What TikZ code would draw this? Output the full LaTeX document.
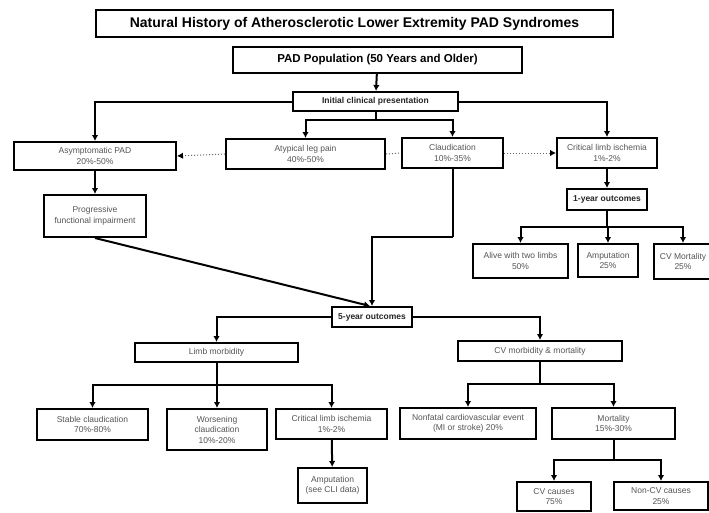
\documentclass[tikz,border=0pt]{standalone}
\usepackage{fontspec}
\setmainfont{Liberation Sans}
\usetikzlibrary{arrows.meta}
\definecolor{txtgray}{HTML}{555555}
\begin{document}
\begin{tikzpicture}[x=1pt,y=-1pt,
  box/.style={draw=black,line width=2pt,align=center,inner sep=1pt,text=txtgray,font=\fontsize{8.5}{10.5}\selectfont},
  bigbox/.style={box,text=black,font=\fontsize{14}{16}\selectfont\bfseries},
  midbox/.style={box,text=black!85,font=\fontsize{8.5}{10.5}\selectfont\bfseries},
  conn/.style={line width=2pt,draw=black},
  arr/.style={conn,-{Latex[length=6pt,width=6.5pt]}},
  dot/.style={line width=1pt,draw=black!60,dotted},
  dotarr/.style={dot,-{Latex[length=6pt,width=6.5pt,black]}}]
\useasboundingbox (0,0) rectangle (709,512);
\fill[white] (0,0) rectangle (709,512);
% nodes
\node[bigbox,minimum width=517pt,minimum height=27pt] (title) at (354.5,23.5) {Natural History of Atherosclerotic Lower Extremity PAD Syndromes};
\node[bigbox,font=\fontsize{11.5}{13}\selectfont\bfseries,minimum width=289pt,minimum height=26pt] (pad) at (377.5,60) {PAD Population (50 Years and Older)};
\node[midbox,minimum width=165pt,minimum height=19pt] (init) at (375.5,101.5) {Initial clinical presentation};
\node[box,minimum width=162pt,minimum height=28pt] (asym) at (95,156) {Asymptomatic PAD\\20\%-50\%};
\node[box,minimum width=159pt,minimum height=30pt] (atyp) at (305.5,154) {Atypical leg pain\\40\%-50\%};
\node[box,minimum width=101pt,minimum height=30pt] (claud) at (452.5,153) {Claudication\\10\%-35\%};
\node[box,minimum width=100pt,minimum height=30pt] (cli1) at (607,153) {Critical limb ischemia\\1\%-2\%};
\node[box,minimum width=102pt,minimum height=42pt] (prog) at (95,216) {Progressive\\functional impairment};
\node[midbox,minimum width=80pt,minimum height=21pt] (oneyr) at (607,199.5) {1-year outcomes};
\node[box,minimum width=95pt,minimum height=34pt] (alive) at (520.5,261) {Alive with two limbs\\50\%};
\node[box,minimum width=60pt,minimum height=33pt] (amp1) at (608,260.5) {Amputation\\25\%};
\node[box,minimum width=58pt,minimum height=35pt] (cvmort) at (683,261.5) {CV Mortality\\25\%};
\node[midbox,minimum width=80pt,minimum height=20pt] (five) at (372,317) {5-year outcomes};
\node[box,minimum width=163pt,minimum height=19pt] (limb) at (216.5,352.5) {Limb morbidity};
\node[box,minimum width=164pt,minimum height=20pt] (cvmm) at (540,351) {CV morbidity \& mortality};
\node[box,minimum width=111pt,minimum height=31pt] (stable) at (92.5,424.5) {Stable claudication\\70\%-80\%};
\node[box,minimum width=100pt,minimum height=41pt] (worse) at (217,429.5) {Worsening\\claudication\\10\%-20\%};
\node[box,minimum width=111pt,minimum height=30pt] (cli2) at (331.5,424) {Critical limb ischemia\\1\%-2\%};
\node[box,minimum width=69pt,minimum height=35pt] (amp2) at (332.5,485.5) {Amputation\\(see CLI data)};
\node[box,minimum width=136pt,minimum height=31pt] (nonfatal) at (468,423.5) {Nonfatal cardiovascular event\\(MI or stroke) 20\%};
\node[box,minimum width=123pt,minimum height=31pt] (mort) at (613.5,423.5) {Mortality\\15\%-30\%};
\node[box,minimum width=74pt,minimum height=29pt] (cvc) at (554,496.5) {CV causes\\75\%};
\node[box,minimum width=94pt,minimum height=28pt] (noncv) at (661,496) {Non-CV causes\\25\%};
% branch points
\coordinate (initsplit) at (375.5,120);
\coordinate (claudbend) at (452.5,237);
\coordinate (oneyrsplit) at (607,227);
\coordinate (limbsplit) at (216.5,385);
\coordinate (cvmmsplit) at (540,384);
\coordinate (mortsplit) at (613.5,460);
% connectors
\draw[arr] (pad) -- (init);
\draw[arr] (init.west) -| (asym.north);
\draw[arr] (init.east) -| (cli1.north);
\draw[conn] (init.south) -- (initsplit);
\draw[arr] (initsplit) -| (atyp.north);
\draw[arr] (initsplit) -| (claud.north);
\draw[arr] (asym) -- (prog);
\draw[dotarr] (atyp.west) -- (asym.east);
\draw[dot] (atyp.east) -- (claud.west);
\draw[dotarr] (claud.east) -- (cli1.west);
\draw[arr] (prog.south) -- ([xshift=-2pt]five.north);
\draw[conn] (claud.south) -- (claudbend);
\draw[arr] (claudbend) -| (five.north);
\draw[arr] (cli1) -- (oneyr);
\draw[conn] (oneyr.south) -- (oneyrsplit);
\draw[arr] (oneyrsplit) -| (alive.north);
\draw[arr] (oneyrsplit) -| (amp1.north);
\draw[arr] (oneyrsplit) -| (cvmort.north);
\draw[arr] (five.west) -| (limb.north);
\draw[arr] (five.east) -| (cvmm.north);
\draw[conn] (limb.south) -- (limbsplit);
\draw[arr] (limbsplit) -| (stable.north);
\draw[arr] (limbsplit) -| (worse.north);
\draw[arr] (limbsplit) -| (cli2.north);
\draw[arr] (cli2) -- (amp2);
\draw[conn] (cvmm.south) -- (cvmmsplit);
\draw[arr] (cvmmsplit) -| (nonfatal.north);
\draw[arr] (cvmmsplit) -| (mort.north);
\draw[conn] (mort.south) -- (mortsplit);
\draw[arr] (mortsplit) -| (cvc.north);
\draw[arr] (mortsplit) -| (noncv.north);
\end{tikzpicture}
\end{document}
